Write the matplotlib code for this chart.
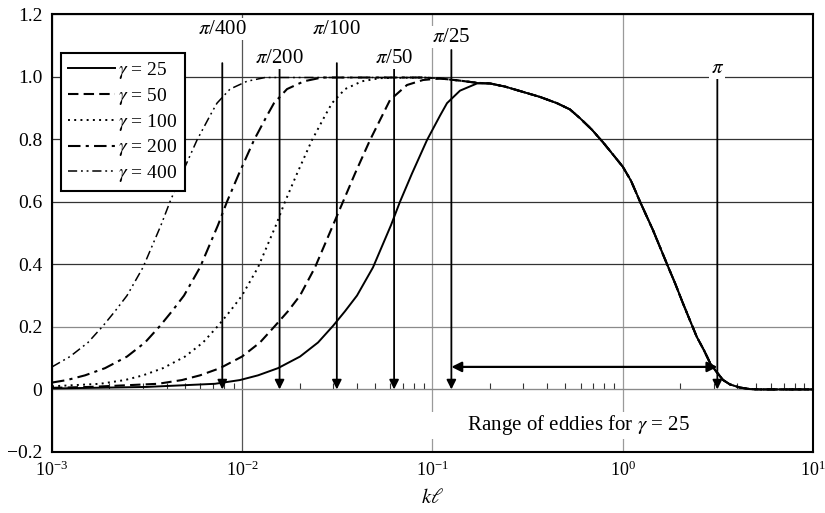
import numpy as np
import matplotlib
matplotlib.use("Agg")
import matplotlib.pyplot as plt
from matplotlib.ticker import FuncFormatter, LogLocator, NullFormatter, NullLocator

plt.rcParams['font.family'] = ['Liberation Serif', 'DejaVu Serif']
plt.rcParams['mathtext.fontset'] = 'stix'

# curve data (k*l, value)
gamma_25_x = [0.001, 0.003157, 0.007189, 0.009731, 0.0121, 0.01541, 0.02012, 0.02502, 0.02999, 0.03469,
              0.0401, 0.04866, 0.06051, 0.06748, 0.078, 0.09356, 0.1095, 0.1192, 0.1395, 0.1714]
gamma_25_y = [0.003, 0.008, 0.018, 0.030, 0.045, 0.068, 0.105, 0.150, 0.203, 0.250,
              0.300, 0.390, 0.525, 0.600, 0.690, 0.797, 0.875, 0.915, 0.955, 0.978]

gamma_50_x = [0.001, 0.001585, 0.003607, 0.004823, 0.005997, 0.007638, 0.00997, 0.01239, 0.01486, 0.0174,
              0.02012, 0.02412, 0.02999, 0.03386, 0.03914, 0.04694, 0.05978, 0.07342, 0.08916, 0.1095,
              0.1395, 0.1714]
gamma_50_y = [0.005, 0.008, 0.018, 0.030, 0.045, 0.068, 0.105, 0.150, 0.203, 0.250,
              0.300, 0.390, 0.525, 0.600, 0.690, 0.797, 0.925, 0.973, 0.989, 0.994,
              0.987, 0.980]

gamma_100_x = [0.001, 0.001788, 0.002419, 0.003008, 0.003832, 0.005002, 0.006219, 0.007454, 0.00863, 0.00997,
               0.0121, 0.01504, 0.01678, 0.01941, 0.02326, 0.02723, 0.02963, 0.03469, 0.0426, 0.05297]
gamma_100_y = [0.010, 0.018, 0.030, 0.045, 0.068, 0.105, 0.150, 0.203, 0.250, 0.300,
               0.390, 0.525, 0.600, 0.690, 0.797, 0.875, 0.915, 0.960, 0.985, 0.995]

gamma_200_x = [0.001, 0.001199, 0.001491, 0.0019, 0.002479, 0.003082, 0.003695, 0.004273, 0.004941, 0.005997,
               0.007454, 0.008313, 0.009614, 0.01153, 0.01349, 0.01468, 0.01719, 0.02112, 0.02626]
gamma_200_y = [0.022, 0.030, 0.045, 0.068, 0.105, 0.150, 0.203, 0.250, 0.300, 0.390,
               0.525, 0.600, 0.690, 0.797, 0.875, 0.915, 0.960, 0.985, 0.997]

gamma_400_x = [0.001, 0.001243, 0.001546, 0.001854, 0.002144, 0.002479, 0.003008, 0.00374, 0.004171, 0.004823,
               0.005783, 0.006768, 0.007365, 0.008623, 0.01059, 0.01317]
gamma_400_y = [0.072, 0.105, 0.150, 0.203, 0.250, 0.300, 0.390, 0.525, 0.600, 0.690,
               0.797, 0.875, 0.915, 0.960, 0.985, 0.997]

# plateau shared by gamma = 100, 200, 400
plateau_x = [0.08916, 0.1095, 0.1395, 0.1714]
plateau_y = [0.997, 0.994, 0.987, 0.980]

# decline shared by all curves
tail_x = [0.2006, 0.2404, 0.299, 0.367, 0.451, 0.528, 0.596, 0.689, 0.787, 0.877,
          1.0, 1.105, 1.233, 1.44, 1.71, 1.882, 2.07, 2.258, 2.45, 2.674,
          2.88, 3.092, 3.37, 3.66, 4.13, 4.67, 5.264, 10.0]
tail_y = [0.978, 0.968, 0.951, 0.935, 0.915, 0.895, 0.867, 0.830, 0.790, 0.755,
          0.712, 0.667, 0.600, 0.510, 0.400, 0.340, 0.276, 0.220, 0.168, 0.125,
          0.084, 0.058, 0.030, 0.016, 0.006, 0.001, 0.0, 0.0]

gammas = [25, 50, 100, 200, 400]
arrow_labels = [r'$\pi$/400', r'$\pi$/200', r'$\pi$/100', r'$\pi$/50', r'$\pi$/25', r'$\pi$']
arrow_div = [400, 200, 100, 50, 25, 1]
arrow_top = [1.043, 1.024, 1.043, 1.024, 1.085, 1.0]
label_y = [1.152, 1.059, 1.152, 1.059, 1.126, 1.027]
range_y = 0.072

curves = {
    25: (gamma_25_x + tail_x, gamma_25_y + tail_y),
    50: (gamma_50_x + tail_x, gamma_50_y + tail_y),
    100: (gamma_100_x + plateau_x + tail_x, gamma_100_y + plateau_y + tail_y),
    200: (gamma_200_x + plateau_x + tail_x, gamma_200_y + plateau_y + tail_y),
    400: (gamma_400_x + plateau_x + tail_x, gamma_400_y + plateau_y + tail_y),
}
styles = {
    25: dict(linestyle='-', lw=1.4),
    50: dict(linestyle=(0, (5, 2.5)), lw=1.5),
    100: dict(linestyle=(0, (1, 2.2)), lw=1.4),
    200: dict(linestyle=(0, (6, 2.5, 1.5, 2.5)), lw=1.5),
    400: dict(linestyle=(0, (6, 2.5, 1.2, 2.5, 1.2, 2.5)), lw=1.1),
}

fig = plt.figure(figsize=(8.25, 5.13), dpi=100)
ax = fig.add_axes([52 / 825, (513 - 452) / 513, 761 / 825, 438 / 513])
ax.set_xscale('log')
ax.set_xlim(1e-3, 10)
ax.set_ylim(-0.2, 1.2)
ax.set_yticks(np.arange(-0.2, 1.21, 0.2))
ax.yaxis.set_major_formatter(FuncFormatter(lambda v, p: '0' if abs(v) < 1e-9 else f'{v:.1f}'.replace('-', '\u2212')))
ax.xaxis.set_minor_locator(NullLocator())
ax.tick_params(axis='both', length=0)
ax.tick_params(axis='y', pad=7, labelsize=14)
ax.tick_params(axis='x', pad=6, labelsize=13)

# grid lines
ax.grid(True, which='major', color='#333333', lw=0.9)
for line, v in zip(ax.get_ygridlines(), ax.get_yticks()):
    if abs(v) < 1e-9 or abs(v - 0.2) < 1e-9:
        line.set_color('#8a8a8a')
for line, v in zip(ax.get_xgridlines(), ax.get_xticks()):
    if v > 0.05:
        line.set_color('#9a9a9a')
    else:
        line.set_color('#555555')
for sp in ax.spines.values():
    sp.set_linewidth(1.5)

# minor ticks along the zero line
zero_ax = ax.secondary_xaxis(0.2 / 1.4)
zero_ax.spines['bottom'].set_color('#8a8a8a')
zero_ax.xaxis.set_major_locator(NullLocator())
zero_ax.xaxis.set_minor_locator(LogLocator(base=10, subs=np.arange(2, 10)))
zero_ax.xaxis.set_minor_formatter(NullFormatter())
zero_ax.tick_params(which='minor', direction='in', length=4, width=0.8, color='#333333')

for g in gammas:
    x, y = curves[g]
    ax.plot(x, y, color='black', label=f'$\\gamma$ = {g}', **styles[g])

for lab, d, top, ly in zip(arrow_labels, arrow_div, arrow_top, label_y):
    xv = np.pi / d
    ax.annotate('', xy=(xv, 0), xytext=(xv, top),
                arrowprops=dict(arrowstyle='-|>', color='black', lw=1.3,
                                shrinkA=0, shrinkB=0, mutation_scale=14))
    ax.text(xv, ly, lab, ha='center', va='center', fontsize=15,
            bbox=dict(facecolor='white', edgecolor='none', pad=1))

ax.annotate('', xy=(np.pi, range_y), xytext=(np.pi / 25, range_y),
            arrowprops=dict(arrowstyle='<|-|>', color='black', lw=1.6,
                            shrinkA=0, shrinkB=0, mutation_scale=15))
ax.text(2.257, -0.114, '        Range of eddies for $\\gamma$ = 25', ha='right', va='center', fontsize=15,
        bbox=dict(facecolor='white', edgecolor='none', pad=1))

ax.set_xlabel(r'$k\ell$', fontsize=15, labelpad=7)

leg = ax.legend(loc='upper left', bbox_to_anchor=(0.012, 0.911), borderaxespad=0,
                fontsize=14, handlelength=2.4, handletextpad=0.2, labelspacing=0.25,
                fancybox=False, framealpha=1, edgecolor='black', borderpad=0.35)
leg.get_frame().set_linewidth(1.5)

fig.savefig('out.png', dpi=100)
